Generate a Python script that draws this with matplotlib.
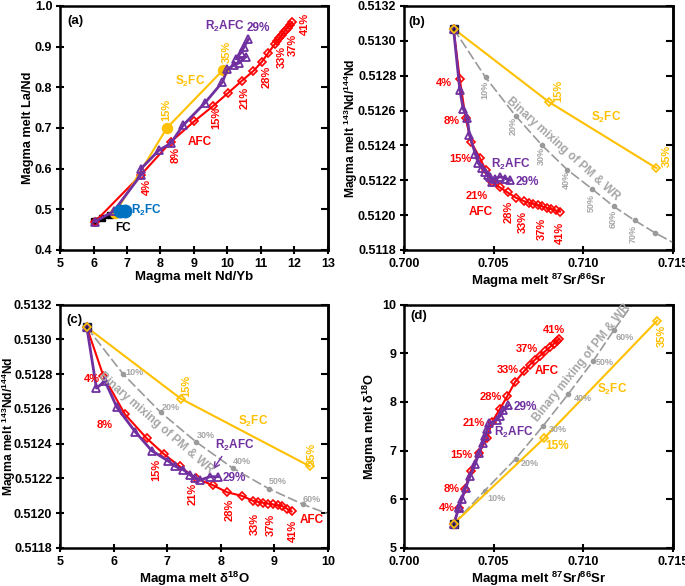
import numpy as np
import matplotlib
matplotlib.use("Agg")
import matplotlib.pyplot as plt

plt.rcParams['font.family'] = ['Liberation Sans', 'DejaVu Sans']
plt.rcParams['font.weight'] = 'bold'
plt.rcParams['mathtext.fontset'] = 'custom'
plt.rcParams['mathtext.rm'] = 'Liberation Sans:bold'
plt.rcParams['mathtext.it'] = 'Liberation Sans:bold'
plt.rcParams['mathtext.bf'] = 'Liberation Sans:bold'
plt.rcParams['mathtext.default'] = 'rm'

RED = '#FF0000'
PUR = '#7030A0'
YEL = '#FFC000'
GRY = '#A6A6A6'
BLU = '#0070C0'

# ---- panel (a): Nd/Yb vs La/Nd
afc_a_x = [6.05, 7.42, 8.30, 9.00, 9.57, 10.03, 10.43, 10.77, 11.03, 11.22, 11.41,
           11.48, 11.55, 11.62, 11.68, 11.74, 11.80, 11.87, 11.93]
afc_a_y = [0.470, 0.585, 0.665, 0.716, 0.754, 0.787, 0.816, 0.840, 0.863, 0.885, 0.906,
           0.914, 0.921, 0.928, 0.935, 0.941, 0.947, 0.954, 0.960]
r2afc_a_x = [6.05, 6.6, 7.42, 7.42, 7.95, 8.30, 8.68, 9.33, 9.85, 10.0, 10.2, 10.35,
             10.55, 10.25, 10.4, 10.5, 10.62]
r2afc_a_y = [0.470, 0.495, 0.585, 0.600, 0.645, 0.662, 0.707, 0.762, 0.813, 0.845, 0.855,
             0.860, 0.875, 0.870, 0.885, 0.900, 0.918]
s2fc_a_x = [6.64, 8.19, 9.87]
s2fc_a_y = [0.490, 0.700, 0.843]
fc_a_x = [6.0, 6.25, 6.5, 6.75]
fc_a_y = [0.472, 0.478, 0.485, 0.490]
r2fc_a_x = [6.80, 6.95]
r2fc_a_y = [0.495, 0.497]

# ---- panel (b): 87Sr/86Sr vs 143Nd/144Nd
afc_b_x = [0.70276, 0.70311, 0.70343, 0.70374, 0.70422, 0.70455, 0.70491, 0.70533, 0.70578,
           0.70624, 0.70669, 0.70695, 0.70720, 0.70745, 0.70770, 0.70795, 0.70820, 0.70845, 0.70870]
afc_b_y = [0.51307, 0.51278, 0.51256, 0.51242, 0.51233, 0.51226, 0.51219, 0.51216, 0.51213,
           0.51210, 0.51208, 0.512072, 0.512065, 0.512057, 0.51205, 0.512042, 0.512035, 0.512027, 0.51202]
r2afc_b_x = [0.70276, 0.70311, 0.70330, 0.70352, 0.70365, 0.70398, 0.70413, 0.70435, 0.70454,
             0.70467, 0.70481, 0.70490, 0.70509, 0.70537, 0.70565, 0.70593]
r2afc_b_y = [0.51307, 0.51272, 0.51261, 0.51256, 0.51246, 0.51235, 0.51230, 0.51227, 0.51225,
             0.51223, 0.51222, 0.51219, 0.51221, 0.51222, 0.51221, 0.51220]
s2fc_b_x = [0.70276, 0.70807, 0.71407]
s2fc_b_y = [0.51307, 0.51265, 0.51227]
mix_b_x = [0.70276, 0.70455, 0.70622, 0.70770, 0.70911, 0.71049, 0.71169, 0.71286, 0.71397, 0.71505]
mix_b_y = [0.51307, 0.51279, 0.51257, 0.51240, 0.51226, 0.51215, 0.51205, 0.51197, 0.51190, 0.51184]
mix_pct = ['10%', '20%', '30%', '40%', '50%', '60%', '70%']

# ---- panel (c): d18O vs 143Nd/144Nd
afc_c_x = [5.50, 5.81, 6.21, 6.62, 6.94, 7.23, 7.54, 7.86, 8.12, 8.39, 8.61,
           8.70, 8.79, 8.88, 8.97, 9.06, 9.15, 9.24, 9.32]
afc_c_y = [0.51307, 0.51279, 0.51257, 0.51243, 0.51234, 0.51227, 0.51220, 0.51216, 0.51212, 0.51210,
           0.51207, 0.512065, 0.51206, 0.512055, 0.51205, 0.512045, 0.51204, 0.512025, 0.51201]
r2afc_c_x = [5.50, 5.68, 5.84, 6.06, 6.40, 6.71, 7.02, 7.15, 7.30, 7.43, 7.52, 7.61, 7.80, 7.95]
r2afc_c_y = [0.51307, 0.51272, 0.51276, 0.51261, 0.51247, 0.51236, 0.51230, 0.51227, 0.51225,
             0.51222, 0.51220, 0.51219, 0.51221, 0.51221]
s2fc_c_x = [5.50, 7.25, 9.66]
s2fc_c_y = [0.51307, 0.51266, 0.51227]
mix_c_x = [5.50, 6.18, 6.88, 7.54, 8.22, 8.90, 9.54, 10.05]
mix_c_y = [0.51307, 0.51280, 0.51258, 0.51241, 0.51226, 0.51214, 0.51205, 0.51199]

# ---- panel (d): 87Sr/86Sr vs d18O
afc_d_x = [0.70278, 0.70308, 0.70340, 0.70372, 0.70418, 0.70465, 0.70489, 0.70535, 0.70576,
           0.70619, 0.70669, 0.70703, 0.70730, 0.70758, 0.70786, 0.70814, 0.70836, 0.70852, 0.70866]
afc_d_y = [5.50, 5.83, 6.21, 6.58, 6.95, 7.27, 7.58, 7.86, 8.12, 8.41, 8.63,
           8.77, 8.87, 8.95, 9.04, 9.13, 9.20, 9.25, 9.30]
r2afc_d_x = [0.70278, 0.70305, 0.70308, 0.70322, 0.70344, 0.70368, 0.70396, 0.70420, 0.70439,
             0.70452, 0.70464, 0.70476, 0.70517, 0.70535, 0.70554, 0.70582]
r2afc_d_y = [5.50, 5.82, 5.85, 6.00, 6.24, 6.47, 6.72, 6.96, 7.15, 7.30, 7.44, 7.56, 7.63,
             7.71, 7.83, 7.93]
s2fc_d_x = [0.70278, 0.70780, 0.71411]
s2fc_d_y = [5.50, 7.25, 9.67]
mix_d_x = [0.70278, 0.70451, 0.70622, 0.70776, 0.70915, 0.71054, 0.71169, 0.71290]
mix_d_y = [5.50, 6.18, 6.83, 7.51, 8.16, 8.84, 9.47, 10.10]

nd_ticks = [0.5118, 0.5120, 0.5122, 0.5124, 0.5126, 0.5128, 0.5130, 0.5132]
sr_ticks = [0.700, 0.705, 0.710, 0.715]


def style(ax, xt, yt, xfmt, yfmt, xlabel, ylabel, ylab_x, ylab_fs=9.2):
    ax.set_xlim(xt[0], xt[-1])
    ax.set_ylim(yt[0], yt[-1])
    ax.set_xticks(xt)
    ax.set_yticks(yt)
    ax.set_xticklabels([xfmt.format(v) for v in xt])
    ax.set_yticklabels([yfmt.format(v) for v in yt])
    for s in ax.spines.values():
        s.set_linewidth(1.8)
    ax.tick_params(direction='inout', length=6, width=1.5, labelsize=9, pad=2.5)
    sec = ax.secondary_yaxis('right')
    sec.set_yticks(yt)
    sec.tick_params(direction='in', length=5, width=1.5, labelright=False)
    sec.spines['right'].set_linewidth(1.8)
    ax.set_xlabel(xlabel, fontsize=9.5, fontweight='bold')
    ax.set_ylabel(ylabel, fontsize=ylab_fs, fontweight='bold')
    # xlabel anchored at its top, ylabel at its right edge
    ax.xaxis.set_label_coords(0.5, -0.088)
    ax.yaxis.set_label_coords(ylab_x, 0.5)


def lab(ax, x, y, s, c, rot=0, fs=8):
    ax.text(x, y, s, color=c, rotation=rot, ha='center', va='center',
            fontsize=fs, fontweight='bold', zorder=6)


def afc(ax, x, y):
    ax.plot(x, y, '-', color=RED, lw=1.5, marker='D', ms=4.5, mfc='none', mec=RED,
            mew=1.2, zorder=3)


def r2afc(ax, x, y):
    ax.plot(x, y, '-', color=PUR, lw=2, marker='^', ms=6, mfc='none', mec=PUR,
            mew=1.3, zorder=4)


def s2fc(ax, x, y, marker='D', filled=False, ms=4.5):
    ax.plot(x, y, '-', color=YEL, lw=1.5, marker=marker, ms=ms,
            mfc=YEL if filled else 'none', mec=YEL, mew=1.2, zorder=3)


def mixing(ax, x, y):
    ax.plot(x, y, color='#9A9A9A', lw=1.2, ls=(0, (6, 2)), zorder=2)
    ax.plot(x[1:-1], y[1:-1], 'o', color='#9A9A9A', ms=3, zorder=2)


def start(ax, x, y):
    ax.plot([x], [y], 's', color='#1F1F3F', ms=6, zorder=5)
    ax.plot([x], [y], '^', mfc='none', mec=PUR, ms=6, mew=1.2, zorder=6)
    ax.plot([x], [y], 'D', mfc='none', mec=YEL, ms=4, mew=1.2, zorder=6)


fig = plt.figure(figsize=(6.85, 5.86), dpi=100)
axa = fig.add_axes([0.0876, 0.5734, 0.3912, 0.4164])
axb = fig.add_axes([0.5898, 0.5734, 0.3927, 0.4164])
axc = fig.add_axes([0.0876, 0.0650, 0.3912, 0.4150])
axd = fig.add_axes([0.5898, 0.0650, 0.3927, 0.4150])

# ---------------- (a)
ax = axa
ax.plot(fc_a_x, fc_a_y, '-', color='black', lw=3, marker='s', ms=4, zorder=3)
afc(ax, afc_a_x, afc_a_y)
s2fc(ax, s2fc_a_x, s2fc_a_y, marker='o', filled=True, ms=7)
r2afc(ax, r2afc_a_x, r2afc_a_y)
ax.plot(r2fc_a_x, r2fc_a_y, 'o', color=BLU, ms=9, zorder=5)
style(ax, [5, 6, 7, 8, 9, 10, 11, 12, 13], [0.4, 0.5, 0.6, 0.7, 0.8, 0.9, 1.0],
      '{:.0f}', '{:.1f}', 'Magma melt Nd/Yb', 'Magma melt La/Nd', -0.097)
lab(ax, 5.45, 0.962, '(a)', 'black', fs=9.5)
for x, y, s in [(7.58, 0.556, '4%'), (8.45, 0.634, '8%'), (9.67, 0.724, '15%'),
                (10.52, 0.773, '21%'), (11.16, 0.826, '28%'), (11.61, 0.875, '33%'),
                (11.96, 0.904, '37%'), (12.31, 0.957, '41%')]:
    lab(ax, x, y, s, RED, rot=90)
lab(ax, 9.17, 0.666, 'AFC', RED, fs=8.5)
lab(ax, 9.92, 0.949, 'R$_2$AFC', PUR, fs=8.5)
lab(ax, 10.93, 0.945, '29%', PUR, fs=8.5)
lab(ax, 8.88, 0.814, 'S$_2$FC', YEL, fs=8.5)
lab(ax, 9.97, 0.888, '35%', YEL, rot=90)
lab(ax, 8.18, 0.744, '15%', YEL, rot=90)
lab(ax, 7.58, 0.498, 'R$_2$FC', BLU, fs=8.5)
lab(ax, 6.89, 0.453, 'FC', 'black', fs=8.5)

# ---------------- (b)
ax = axb
mixing(ax, mix_b_x, mix_b_y)
s2fc(ax, s2fc_b_x, s2fc_b_y)
afc(ax, afc_b_x, afc_b_y)
r2afc(ax, r2afc_b_x, r2afc_b_y)
start(ax, afc_b_x[0], afc_b_y[0])
style(ax, sr_ticks, nd_ticks, '{:.3f}', '{:.4f}',
      'Magma melt $^{87}$Sr/$^{86}$Sr', 'Magma melt $^{143}$Nd/$^{144}$Nd', -0.165, 8.7)
lab(ax, 0.70071, 0.51311, '(b)', 'black', fs=9.5)
for x, y, s in [(0.70222, 0.51276, '4%'), (0.70265, 0.51254, '8%'),
                (0.70315, 0.51232, '15%'), (0.70407, 0.51211, '21%')]:
    lab(ax, x, y, s, RED)
lab(ax, 0.70426, 0.51202, 'AFC', RED, fs=8.5)
for x, y, s in [(0.70583, 0.51202, '28%'), (0.70663, 0.51196, '33%'),
                (0.70767, 0.51192, '37%'), (0.70870, 0.51190, '41%')]:
    lab(ax, x, y, s, RED, rot=90)
lab(ax, 0.70593, 0.51229, 'R$_2$AFC', PUR, fs=8.5)
lab(ax, 0.70685, 0.51219, '29%', PUR, fs=8.5)
lab(ax, 0.70859, 0.51271, '15%', YEL, rot=90)
lab(ax, 0.71463, 0.51234, '35%', YEL, rot=90)
lab(ax, 0.71129, 0.51256, 'S$_2$FC', YEL, fs=8.5)
for x, y, s in zip([0.70453, 0.70609, 0.70767, 0.70906, 0.71045, 0.71166, 0.71277],
                   [0.51272, 0.51251, 0.51234, 0.51220, 0.51207, 0.51198, 0.51189], mix_pct):
    lab(ax, x, y, s, GRY, rot=90, fs=6.5)
lab(ax, 0.70884, 0.51238, 'Binary mixing of PM & WR', GRY, rot=-42, fs=8.5)

# ---------------- (c)
ax = axc
mixing(ax, mix_c_x, mix_c_y)
s2fc(ax, s2fc_c_x, s2fc_c_y)
afc(ax, afc_c_x, afc_c_y)
r2afc(ax, r2afc_c_x, r2afc_c_y)
start(ax, afc_c_x[0], afc_c_y[0])
style(ax, [5, 6, 7, 8, 9, 10], nd_ticks, '{:.0f}', '{:.4f}',
      'Magma melt δ$^{18}$O', 'Magma melt $^{143}$Nd/$^{144}$Nd', -0.158, 8.7)
lab(ax, 5.26, 0.51311, '(c)', 'black', fs=9.5)
lab(ax, 5.59, 0.51277, '4%', RED)
lab(ax, 5.84, 0.51251, '8%', RED)
for x, y, s in [(6.80, 0.51225, '15%'), (7.47, 0.51211, '21%'), (8.17, 0.51202, '28%'),
                (8.63, 0.51194, '33%'), (8.94, 0.51193, '37%'), (9.35, 0.51190, '41%')]:
    lab(ax, x, y, s, RED, rot=90)
lab(ax, 9.69, 0.51196, 'AFC', RED, fs=8.5)
lab(ax, 8.26, 0.51239, 'R$_2$AFC', PUR, fs=8.5)
ax.annotate('', xy=(7.83, 0.51224), xytext=(8.05, 0.51234),
            arrowprops=dict(arrowstyle='->', color=PUR, lw=1))
lab(ax, 8.26, 0.51220, '29%', PUR, fs=8.5)
lab(ax, 7.36, 0.51273, '15%', YEL, rot=90)
lab(ax, 8.61, 0.51253, 'S$_2$FC', YEL, fs=8.5)
lab(ax, 9.70, 0.51234, '35%', YEL, rot=90)
for x, y, s in zip([6.40, 7.07, 7.72, 8.40, 9.07, 9.70],
                   [0.51281, 0.51261, 0.51245, 0.51230, 0.51218, 0.51208], mix_pct):
    lab(ax, x, y, s, GRY, fs=6.5)
lab(ax, 6.78, 0.51252, 'Binary mixing of PM & WR', GRY, rot=-41, fs=8.5)

# ---------------- (d)
ax = axd
mixing(ax, mix_d_x, mix_d_y)
s2fc(ax, s2fc_d_x, s2fc_d_y)
afc(ax, afc_d_x, afc_d_y)
r2afc(ax, r2afc_d_x, r2afc_d_y)
start(ax, afc_d_x[0], afc_d_y[0])
style(ax, sr_ticks, [5, 6, 7, 8, 9, 10], '{:.3f}', '{:.0f}',
      'Magma melt $^{87}$Sr/$^{86}$Sr', 'Magma melt δ$^{18}$O', -0.093)
lab(ax, 0.70080, 9.76, '(d)', 'black', fs=9.5)
for x, y, s in [(0.70238, 5.83, '4%'), (0.70266, 6.22, '8%'), (0.70322, 6.91, '15%'),
                (0.70390, 7.56, '21%'), (0.70483, 8.11, '28%'), (0.70576, 8.65, '33%'),
                (0.70684, 9.09, '37%'), (0.70836, 9.49, '41%')]:
    lab(ax, x, y, s, RED)
lab(ax, 0.70796, 8.63, 'AFC', RED, fs=8.5)
lab(ax, 0.70675, 7.90, '29%', PUR, fs=8.5)
lab(ax, 0.70610, 7.37, 'R$_2$AFC', PUR, fs=8.5)
lab(ax, 0.70851, 7.10, '15%', YEL, fs=8.5)
lab(ax, 0.71158, 8.26, 'S$_2$FC', YEL, fs=8.5)
lab(ax, 0.71437, 9.35, '35%', YEL, rot=90)
for x, y, s in zip([0.70516, 0.70702, 0.70859, 0.70999, 0.71119, 0.71231],
                   [6.02, 6.73, 7.44, 8.07, 8.81, 9.32], mix_pct):
    lab(ax, x, y, s, GRY, fs=6.5)
lab(ax, 0.70994, 8.80, 'Binary mixing of PM & WR', GRY, rot=51, fs=8.5)

fig.savefig('out.png', dpi=100)
